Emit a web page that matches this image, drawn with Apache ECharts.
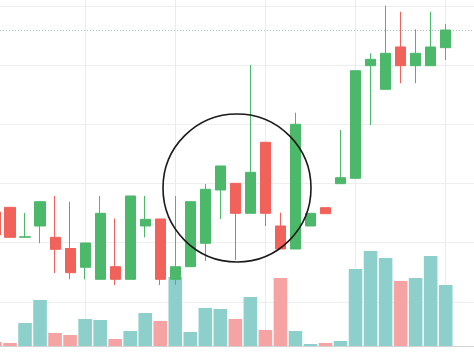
<!DOCTYPE html>
<html>
<head>
<meta charset="utf-8">
<script src="https://cdn.jsdelivr.net/npm/echarts@6/dist/echarts.min.js"></script>
<style>
html,body{margin:0;padding:0;background:#fff;}
#chart{width:474px;height:355px;}
</style>
</head>
<body>
<div id="chart"></div>
<script>
// Session index of each candle (session 0 is cut off at the left edge)
const sessions = [0,1,2,3,4,5,6,7,8,9,10,11,12,13,14,15,16,17,18,19,20,21,22,23,24,25,26,27,28,29,30];

// Price values (arbitrary units)
const opens  = [149, 153.7, 123.8, 135, 123.7, 112.5, 93.7, 81.7, 94.3, 81.7, 135, 142, 81.7, 94.3, 117.7, 171, 177.7, 147.7, 218.7, 135, 112, 135, 153.3, 177.3, 182.7, 295.3, 271.7, 314, 295.3, 295.3, 313.3];
const closes = [126, 123.7, 124.2, 159.3, 111.7, 88.3, 118, 147.7, 81.7, 165, 141.7, 81.7, 94.3, 159.3, 171.7, 195, 147.7, 188.7, 147.7, 112, 236.7, 147.7, 147.3, 183.3, 290.3, 301.7, 307.7, 295.3, 307.7, 314, 331];
const lows   = [126, 123.7, 123.5, 117.7, 88, 81.7, 81.7, 81.7, 76, 81.7, 123.7, 76, 76, 94.3, 100, 142, 101, 147.7, 135, 112, 112, 135, 147.3, 177.3, 182.7, 236, 271.7, 277.7, 277.7, 295.3, 301];
const highs  = [149, 153.7, 148, 159.3, 165, 159.3, 118, 165, 142.5, 165, 165, 142, 165, 159.3, 177, 195, 177.7, 296, 218.7, 148.3, 248.3, 147.7, 153.3, 231, 290.3, 307.7, 355.3, 349.3, 331.7, 349.3, 337];

// Volume values
const volumes = [4, 3, 23, 46, 13, 11, 27, 26, 7, 15, 33, 25, 69, 14, 38, 37, 27, 49, 16, 68, 15, 2, 3, 5, 77, 95, 88, 65, 68, 90, 61];

// Reference level (dotted line)
const referenceLevel = [331];

// Sessions marked with vertical grid lines
const gridSessions = [6, 12, 18, 24, 30];

const UP = '#4cb86a', DOWN = '#f0625a';
const VOL_UP = '#8dd0cb', VOL_DOWN = '#f5a3a3';

const candleData = sessions.map((s, i) => [s, opens[i], closes[i], lows[i], highs[i]]);
const volData = sessions.map((s, i) => ({
  value: [s, volumes[i]],
  itemStyle: { color: closes[i] >= opens[i] ? VOL_UP : VOL_DOWN }
}));

const X_MIN = 0.3344, X_MAX = 31.884;
const P_STEP = 355 / 6;

const chart = echarts.init(document.getElementById('chart'), null, {renderer: 'canvas'});
const hiddenX = (gi, showLine) => ({
  type: 'value', gridIndex: gi, min: X_MIN, max: X_MAX,
  axisLine: {show: showLine, onZero: false, lineStyle: {color: '#d2d2d2', width: 1}},
  axisTick: {show: false}, axisLabel: {show: false}, splitLine: {show: false}
});
chart.setOption({
  animation: false,
  backgroundColor: '#ffffff',
  grid: [
    { left: 0, right: 0, top: 6, bottom: 355 - 301.83 },
    { left: 0, right: 0, top: 0, bottom: 9 }
  ],
  xAxis: [ hiddenX(0, false), hiddenX(1, true) ],
  yAxis: [
    { type: 'value', gridIndex: 0, min: P_STEP, max: 355, interval: P_STEP,
      axisLine: {show: false}, axisTick: {show: false}, axisLabel: {show: false},
      splitLine: {show: true, lineStyle: {color: '#eeeeee', width: 1}} },
    { type: 'value', gridIndex: 1, min: 0, max: 346,
      axisLine: {show: false}, axisTick: {show: false}, axisLabel: {show: false}, splitLine: {show: false} }
  ],
  series: [
    {
      type: 'bar', xAxisIndex: 1, yAxisIndex: 1, data: volData, barWidth: 13.6, z: 2,
      markLine: {
        silent: true, symbol: 'none', label: {show: false}, z: 1,
        lineStyle: {color: '#ebebeb', type: 'solid', width: 1},
        data: gridSessions.map(s => ({xAxis: s}))
      }
    },
    {
      type: 'candlestick', xAxisIndex: 0, yAxisIndex: 0, data: candleData, barWidth: 10.6, z: 5,
      clip: false, layout: 'horizontal',
      encode: { x: 0, y: [1, 2, 3, 4] },
      itemStyle: { color: UP, color0: DOWN, borderColor: UP, borderColor0: DOWN, borderWidth: 1 },
      markLine: {
        silent: true, symbol: 'none', label: {show: false},
        lineStyle: {color: '#a9c3c6', type: [1, 2], width: 1},
        data: referenceLevel.map(v => ({yAxis: v}))
      }
    }
  ],
  graphic: [
    { type: 'circle', z: 100, shape: {cx: 237, cy: 188, r: 74},
      style: {fill: 'none', stroke: '#1a1a1a', lineWidth: 1.6} }
  ]
});
</script>
</body>
</html>
